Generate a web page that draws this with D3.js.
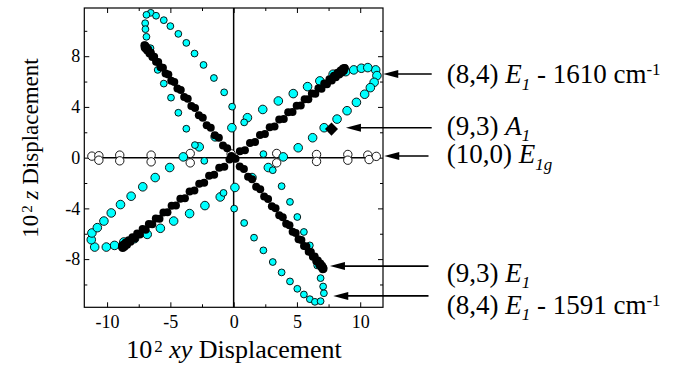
<!DOCTYPE html>
<html>
<head>
<meta charset="utf-8">
<script src="https://cdn.jsdelivr.net/npm/d3@7"></script>
<style>
  body { margin: 0; background: #fff; }
  svg, svg text { font-family: "Liberation Serif", "Times New Roman", "DejaVu Serif", serif; }
</style>
</head>
<body>
<svg id="chart" width="674" height="367"></svg>
<script>
// values, all in units of 10^-2

// (8,4) E1 - 1610 cm-1 : big cyan loop, lower left to upper right
const loop1610 = [
  [11.22, 6.92], [11.32, 6.47], [11.1, 5.94], [10.8, 5.52], [10.35, 5.0], [9.7, 4.36],
  [8.96, 3.7], [8.17, 3.04], [7.15, 2.36], [6.24, 1.57], [5.1, 0.78], [3.92, 0.06],
  [2.74, -0.78], [1.45, -1.57], [0.1, -2.35], [-1.06, -3.1], [-2.27, -3.78], [-3.48, -4.41],
  [-4.74, -5.0], [-5.79, -5.57], [-6.83, -6.05], [-7.83, -6.39], [-8.68, -6.65], [-9.41, -6.92],
  [-10.06, -7.05], [-10.98, -7.05], [-11.25, -6.47], [-11.2, -5.94], [-10.77, -5.52], [-10.25, -5.0],
  [-9.67, -4.36], [-8.94, -3.7], [-8.1, -3.04], [-7.18, -2.3], [-6.2, -1.57], [-5.05, -0.78],
  [-3.98, 0.06], [-2.72, 0.85], [-1.46, 1.64], [-0.14, 2.36], [1.09, 3.15], [2.3, 3.8],
  [3.53, 4.47], [4.71, 5.05], [5.84, 5.6], [6.81, 6.05], [7.86, 6.58], [8.86, 6.78],
  [9.49, 6.92], [10.09, 7.05], [10.6, 7.1]
];

// (8,4) E1 - 1591 cm-1 : small cyan loop, upper left to lower right
const loop1591 = [
  [-6.55, 11.42], [-6.89, 11.26], [-6.99, 10.6], [-6.97, 10.13], [-6.89, 9.53], [-6.57, 8.63],
  [-6.0, 6.92], [-5.52, 5.84], [-4.95, 4.73], [-4.37, 3.54], [-3.74, 2.28], [-3.06, 0.99],
  [-2.32, -0.25], [-0.8, -2.78], [0.04, -4.02], [0.83, -5.15], [1.61, -6.31], [2.35, -7.31],
  [3.09, -8.23], [3.79, -9.05], [4.45, -9.76], [5.03, -10.34], [5.55, -10.79], [6.02, -11.16],
  [6.42, -11.37], [6.87, -11.32], [7.13, -10.69], [7.07, -10.16], [6.87, -9.5], [6.6, -8.5],
  [6.02, -6.92], [5.55, -5.86], [5.03, -4.68], [4.45, -3.49], [3.79, -2.25], [3.09, -0.99],
  [2.35, 0.28], [0.83, 2.78], [-0.12, 4.02], [-0.75, 5.15], [-1.56, 6.28], [-2.38, 7.31],
  [-3.09, 8.21], [-3.74, 9.05], [-4.37, 9.76], [-5.0, 10.37], [-5.52, 10.84], [-6.13, 11.19]
];

// (9,3) E1 : black dots, two straight strokes through the origin
const e1Dots = [
  // upper left -> lower right
  [-7.05, 8.86], [-7.03, 8.69], [-7.0, 8.85], [-6.96, 8.6], [-6.9, 8.73], [-6.83, 8.44],
  [-6.75, 8.54], [-6.65, 8.21], [-6.54, 8.28], [-6.42, 7.93], [-6.28, 7.95], [-6.13, 7.56],
  [-5.96, 7.55], [-5.78, 7.13], [-5.59, 7.09], [-5.38, 6.63], [-5.16, 6.55], [-4.93, 6.06],
  [-4.69, 5.96], [-4.44, 5.45], [-4.18, 5.33], [-3.91, 4.79], [-3.63, 4.64], [-3.34, 4.08],
  [-3.05, 3.91], [-2.75, 3.34], [-2.44, 3.15], [-2.13, 2.56], [-1.81, 2.36], [-1.49, 1.76],
  [-1.17, 1.56], [-0.84, 0.95], [-0.51, 0.74], [-0.18, 0.13],
  [0.15, -0.09], [0.48, -0.69], [0.81, -0.9], [1.14, -1.51], [1.46, -1.7], [1.78, -2.3],
  [2.1, -2.49], [2.41, -3.07], [2.72, -3.26], [3.02, -3.83], [3.31, -3.98], [3.6, -4.54],
  [3.88, -4.69], [4.15, -5.22], [4.41, -5.34], [4.66, -5.85], [4.9, -5.95], [5.13, -6.43],
  [5.35, -6.5], [5.56, -6.96], [5.75, -7.0], [5.93, -7.42], [6.1, -7.43], [6.26, -7.82],
  [6.4, -7.8], [6.53, -8.16], [6.65, -8.11], [6.76, -8.44], [6.85, -8.35], [6.93, -8.65],
  [6.99, -8.53], [7.04, -8.79], [7.08, -8.69], [7.1, -8.76],
  // lower left -> upper right
  [-8.83, -7.05], [-8.8, -6.92], [-8.76, -7.13], [-8.7, -6.84], [-8.62, -7.02], [-8.53, -6.7],
  [-8.42, -6.86], [-8.29, -6.51], [-8.15, -6.64], [-7.99, -6.27], [-7.81, -6.37], [-7.62, -5.98],
  [-7.41, -6.05], [-7.19, -5.63], [-6.95, -5.68], [-6.7, -5.24], [-6.43, -5.26], [-6.15, -4.8],
  [-5.86, -4.81], [-5.55, -4.32], [-5.23, -4.3], [-4.9, -3.8], [-4.56, -3.77], [-4.21, -3.25],
  [-3.85, -3.2], [-3.48, -2.66], [-3.1, -2.6], [-2.72, -2.06], [-2.33, -1.98], [-1.94, -1.43],
  [-1.54, -1.35], [-1.14, -0.79], [-0.74, -0.71], [-0.33, -0.14],
  [0.08, -0.06], [0.49, 0.51], [0.89, 0.59], [1.29, 1.15], [1.69, 1.23], [2.08, 1.78],
  [2.47, 1.86], [2.85, 2.4], [3.23, 2.46], [3.6, 3.0], [3.96, 3.05], [4.31, 3.57],
  [4.65, 3.6], [4.98, 4.1], [5.3, 4.12], [5.61, 4.61], [5.9, 4.6], [6.18, 5.06],
  [6.45, 5.04], [6.7, 5.48], [6.94, 5.43], [7.16, 5.85], [7.37, 5.78], [7.57, 6.18],
  [7.75, 6.08], [7.92, 6.46], [8.07, 6.34], [8.21, 6.69], [8.34, 6.55], [8.45, 6.88],
  [8.55, 6.72], [8.64, 7.03], [8.71, 6.85], [8.76, 7.07], [8.78, 7.05]
];

// (9,3) A1 : black diamond
const a1Points = [[7.73, 2.25]];

// (10,0) E1g : open circles along z = 0
const e1gPoints = [
  [-11.2, 0.12], [-10.65, 0.15], [-10.65, -0.2], [-9.0, 0.2], [-9.0, -0.25], [-6.52, 0.2],
  [-6.52, -0.33], [-3.43, 0.33], [-3.43, -0.41], [-0.2, 0.3], [3.4, 0.33], [3.4, -0.41],
  [6.55, 0.25], [6.55, -0.3], [9.02, 0.25], [9.02, -0.2], [10.6, 0.2], [10.7, -0.15],
  [11.27, 0.1]
];

const xTicks = [-10, -5, 0, 5, 10];
const xMinor = [-7.5, -2.5, 2.5, 7.5];
const yTicks = [-8, -4, 0, 4, 8];
const yMinor = [-10, -6, -2, 2, 6, 10];

// labels at the right, pieces: i = italic, sub / sup
const modeLabels = [
  [{t: "(8,4) "}, {t: "E", i: 1}, {t: "1", i: 1, sub: 1}, {t: " - 1610 cm"}, {t: "-1", sup: 1}],
  [{t: "(9,3) "}, {t: "A", i: 1}, {t: "1", i: 1, sub: 1}],
  [{t: "(10,0) "}, {t: "E", i: 1}, {t: "1g", i: 1, sub: 1}],
  [{t: "(9,3) "}, {t: "E", i: 1}, {t: "1", i: 1, sub: 1}],
  [{t: "(8,4) "}, {t: "E", i: 1}, {t: "1", i: 1, sub: 1}, {t: " - 1591 cm"}, {t: "-1", sup: 1}]
];
// arrow tips, in data units
const arrowTips = [[11.82, 6.6], [8.87, 2.36], [11.9, 0.13], [7.61, -8.55], [7.87, -10.9]];

const serif = "Liberation Serif, Times New Roman, DejaVu Serif, serif";
const svg = d3.select("#chart").attr("font-family", serif);
const x = d3.scaleLinear().domain([-11.8, 11.8]).range([84.3, 383]);
const y = d3.scaleLinear().domain([-11.8, 11.8]).range([307.3, 8]);

function fixAxis(g) {
  g.select(".domain").remove();
  g.selectAll(".tick line").attr("stroke", "#000").attr("stroke-width", 1);
  g.attr("font-family", serif).attr("font-size", 18);
  g.selectAll("text").attr("fill", "#000");
}

// bottom / top
svg.append("g").attr("transform", "translate(0," + y(-11.8) + ")")
  .call(d3.axisBottom(x).tickValues(xTicks).tickSize(-5).tickPadding(8).tickFormat(d => String(d)))
  .call(fixAxis);
svg.append("g").attr("transform", "translate(0," + y(-11.8) + ")")
  .call(d3.axisBottom(x).tickValues(xMinor).tickSize(-3).tickFormat(""))
  .call(fixAxis);
svg.append("g").attr("transform", "translate(0," + y(11.8) + ")")
  .call(d3.axisTop(x).tickValues(xTicks).tickSize(-5).tickFormat(""))
  .call(fixAxis);
svg.append("g").attr("transform", "translate(0," + y(11.8) + ")")
  .call(d3.axisTop(x).tickValues(xMinor).tickSize(-3).tickFormat(""))
  .call(fixAxis);

// left / right
svg.append("g").attr("transform", "translate(" + x(-11.8) + ",0)")
  .call(d3.axisLeft(y).tickValues(yTicks).tickSize(-5).tickPadding(4).tickFormat(d => String(d)))
  .call(fixAxis);
svg.append("g").attr("transform", "translate(" + x(-11.8) + ",0)")
  .call(d3.axisLeft(y).tickValues(yMinor).tickSize(-3).tickFormat(""))
  .call(fixAxis);
svg.append("g").attr("transform", "translate(" + x(11.8) + ",0)")
  .call(d3.axisRight(y).tickValues(yTicks).tickSize(-5).tickFormat(""))
  .call(fixAxis);
svg.append("g").attr("transform", "translate(" + x(11.8) + ",0)")
  .call(d3.axisRight(y).tickValues(yMinor).tickSize(-3).tickFormat(""))
  .call(fixAxis);

// frame
svg.append("rect")
  .attr("x", x(-11.8)).attr("y", y(11.8))
  .attr("width", x(11.8) - x(-11.8)).attr("height", y(-11.8) - y(11.8))
  .attr("fill", "none").attr("stroke", "#000").attr("stroke-width", 1.2);

// zero lines
svg.append("line")
  .attr("x1", x(0)).attr("x2", x(0)).attr("y1", y(11.8)).attr("y2", y(-11.8))
  .attr("stroke", "#000").attr("stroke-width", 1.5);
const e1gExt = d3.extent(e1gPoints, d => d[0]);
svg.append("line")
  .attr("x1", x(e1gExt[0])).attr("x2", x(e1gExt[1])).attr("y1", y(0)).attr("y2", y(0))
  .attr("stroke", "#000").attr("stroke-width", 1.5);

// series
svg.append("g").selectAll("circle").data(e1gPoints).join("circle")
  .attr("cx", d => x(d[0])).attr("cy", d => y(d[1])).attr("r", 4.2)
  .attr("fill", "#fff").attr("stroke", "#000").attr("stroke-width", 0.9);

svg.append("g").selectAll("circle").data(loop1610).join("circle")
  .attr("cx", d => x(d[0])).attr("cy", d => y(d[1])).attr("r", 4.3)
  .attr("fill", "#00ffff").attr("stroke", "#000").attr("stroke-width", 0.9);

svg.append("g").selectAll("circle").data(loop1591).join("circle")
  .attr("cx", d => x(d[0])).attr("cy", d => y(d[1])).attr("r", 3.4)
  .attr("fill", "#00ffff").attr("stroke", "#000").attr("stroke-width", 0.9);

svg.append("g").selectAll("circle").data(e1Dots).join("circle")
  .attr("cx", d => x(d[0])).attr("cy", d => y(d[1])).attr("r", 4)
  .attr("fill", "#000");

svg.append("g").selectAll("path").data(a1Points).join("path")
  .attr("d", d3.symbol(d3.symbolSquare, 85))
  .attr("transform", d => "translate(" + x(d[0]) + "," + y(d[1]) + ") rotate(45)")
  .attr("fill", "#000");

// axis titles
const xt = svg.append("text").attr("x", 234).attr("y", 358)
  .attr("text-anchor", "middle").attr("font-size", 26);
xt.append("tspan").text("10");
xt.append("tspan").text("2").attr("font-size", 17).attr("dx", 2).attr("dy", -6.5);
xt.append("tspan").text(" ").attr("dy", 6.5);
xt.append("tspan").text("xy").attr("font-style", "italic");
xt.append("tspan").text(" Displacement");

const yt = svg.append("text").attr("transform", "translate(38,148) rotate(-90)")
  .attr("text-anchor", "middle").attr("font-size", 23);
yt.append("tspan").text("10");
yt.append("tspan").text("2").attr("font-size", 15).attr("dx", 2).attr("dy", -6);
yt.append("tspan").text(" ").attr("dy", 6);
yt.append("tspan").text("z").attr("font-style", "italic");
yt.append("tspan").text(" Displacement");

// right hand labels with arrows
const labelSize = 27;
const arrowY = arrowTips.map(d => y(d[1]));
const baseY = [83.3, 135, 163.3, 282, 314];
modeLabels.forEach((parts, k) => {
  const tx = x(arrowTips[k][0]), ty = arrowY[k];
  const tail = k === 2 || k === 3 || k === 4 ? 428.5 : 431.7;
  svg.append("line").attr("x1", tail).attr("x2", tx + 12).attr("y1", ty).attr("y2", ty)
    .attr("stroke", "#000").attr("stroke-width", 1.6);
  svg.append("path")
    .attr("d", "M" + tx + "," + ty + "L" + (tx + 15) + "," + (ty - 4) + "L" + (tx + 15) + "," + (ty + 4) + "Z")
    .attr("fill", "#000");

  const t = svg.append("text").attr("x", 446.7).attr("y", baseY[k]).attr("font-size", labelSize);
  let shift = 0;
  parts.forEach(p => {
    const target = p.sub ? labelSize * 0.24 : p.sup ? -labelSize * 0.31 : 0;
    const ts = t.append("tspan").text(p.t).attr("dy", target - shift);
    if (p.sub || p.sup) ts.attr("font-size", labelSize * 0.63);
    if (p.i) ts.attr("font-style", "italic");
    shift = target;
  });
});
</script>
</body>
</html>
